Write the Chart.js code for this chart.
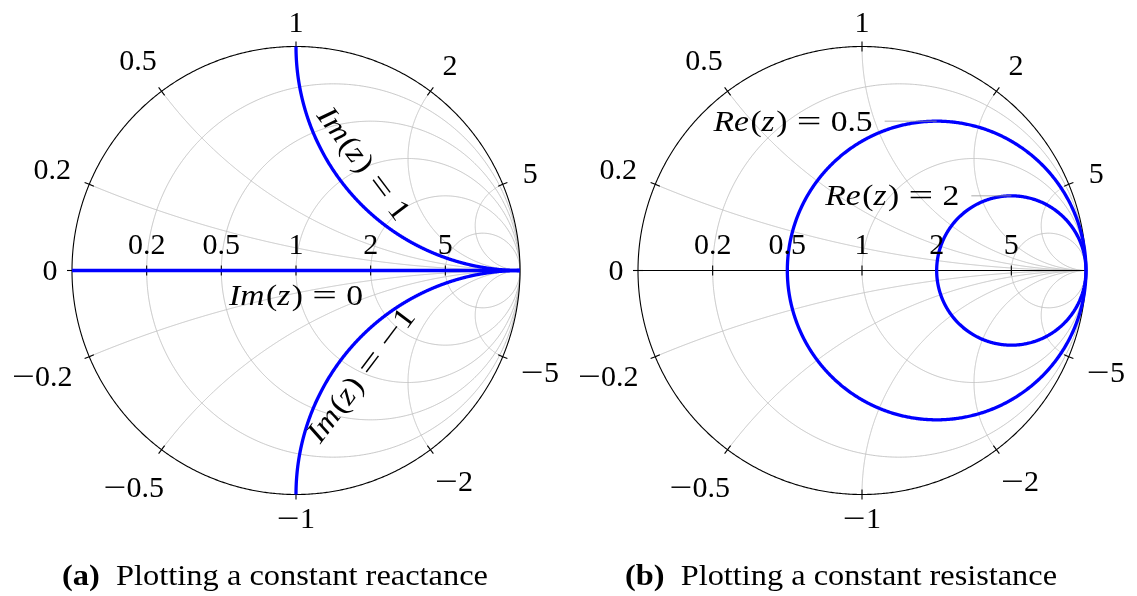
<!DOCTYPE html>
<html>
<head>
<meta charset="utf-8">
<script src="https://cdn.jsdelivr.net/npm/chart.js@4/dist/chart.umd.min.js"></script>
<style>
  html, body { margin: 0; padding: 0; background: #fff; }
  #wrap { position: relative; width: 1137px; height: 596px; overflow: hidden; }
  canvas { position: absolute; top: 0; }
</style>
</head>
<body>
<div id="wrap">
  <canvas id="chartA" width="568" height="596" style="left:0"></canvas>
  <canvas id="chartB" width="569" height="596" style="left:568px"></canvas>
</div>
<script>
// Smith chart grid, in normalised impedance z = r + jx
const resistanceTicks = [0.2, 0.5, 1, 2, 5];
const axisTickLabels = ['0.2', '0.5', '1', '2', '5'];
const reactanceTicks = [0.2, 0.5, 1, 2, 5, -0.2, -0.5, -1, -2, -5];
const rimTickValues = [0, 0.2, 0.5, 1, 2, 5, -0.2, -0.5, -1, -2, -5];
const rimTickLabels = ['0', '0.2', '0.5', '1', '2', '5', '−0.2', '−0.5', '−1', '−2', '−5'];

// Highlighted loci
const constReactance = [1, 0, -1];
const constReactanceLabels = ['Im(z) = 1', 'Im(z) = 0', 'Im(z) = −1'];
const constResistance = [0.5, 2];
const constResistanceLabels = ['Re(z) = 0.5', 'Re(z) = 2'];

const captionTags = ['(a)', '(b)'];
const captionTexts = ['Plotting a constant reactance', 'Plotting a constant resistance'];

// ---- layout / style ----
const R_PX = 224;                 // chart radius in pixels
const TICK = 5 / R_PX;            // half tick length in data units
const FAMILY = '"Liberation Serif", "Times New Roman", serif';
const EM = 30;
const GRID = 'rgb(192,192,192)';
const BLUE = '#0000ff';

// reflection coefficient of z = r + jx
function gamma(r, x) {
  const den = (r + 1) * (r + 1) + x * x;
  return { x: (r * r + x * x - 1) / den, y: (2 * x) / den };
}
const STEPS = 480;
function resistanceLocus(r) {
  const pts = [{ x: 1, y: 0 }];
  for (let i = 1; i < STEPS; i++) {
    const t = -Math.PI / 2 + Math.PI * i / STEPS;
    pts.push(gamma(r, Math.tan(t)));
  }
  pts.push({ x: 1, y: 0 });
  return pts;
}
function reactanceLocus(x) {
  const pts = [];
  for (let i = 0; i < STEPS; i++) {
    const t = (Math.PI / 2) * i / STEPS;
    pts.push(gamma(Math.tan(t), x));
  }
  pts.push({ x: 1, y: 0 });
  return pts;
}
// a tiny tension keeps Chart.js on the exact path renderer (no per-pixel merging)
function series(data, color, width, order) {
  return { data, borderColor: color, borderWidth: width, showLine: true, pointRadius: 0,
           pointHoverRadius: 0, fill: false, tension: 0.0001, order, clip: false,
           borderJoinStyle: 'round' };
}

function baseDatasets() {
  const ds = [];
  resistanceTicks.forEach(r => ds.push(series(resistanceLocus(r), GRID, 1, 3)));
  reactanceTicks.forEach(x => ds.push(series(reactanceLocus(x), GRID, 1, 3)));
  ds.push(series(resistanceLocus(0), '#000', 1.1, 2));     // rim
  ds.push(series(reactanceLocus(0), '#000', 1.1, 2));      // real axis
  rimTickValues.forEach(x => {
    const g = gamma(0, x);
    ds.push(series([{ x: g.x * (1 - TICK), y: g.y * (1 - TICK) },
                    { x: g.x * (1 + TICK), y: g.y * (1 + TICK) }], '#000', 1.1, 2));
  });
  resistanceTicks.forEach(r => {
    const g = gamma(r, 0);
    ds.push(series([{ x: g.x, y: -TICK }, { x: g.x, y: TICK }], '#000', 1.1, 2));
  });
  return ds;
}

// ---- math-style text ----
function mathRuns(str) {
  const runs = [];
  const k = /[A-Za-z]/.test(str) ? 1.12 : 1;
  for (const ch of str) {
    if (ch === ' ') continue;
    if (/[A-Za-z]/.test(ch)) runs.push({ t: ch, it: true, sx: k });
    else if (ch === '=') runs.push({ t: '=', sx: 1.3 * k, padL: 0.278 * k, padR: 0.278 * k });
    else if (ch === '−') runs.push({ t: '−', sx: 1.35 * k });
    else runs.push({ t: ch, sx: k });
  }
  return runs;
}
function runFont(run) { return (run.it ? 'italic ' : '') + EM + 'px ' + FAMILY; }
function runsLayout(ctx, runs) {
  let x = 0;
  const out = [];
  runs.forEach((run, i) => {
    ctx.font = runFont(run);
    const sx = run.sx || 1;
    x += (run.padL || 0) * EM;
    const w = ctx.measureText(run.t).width * sx;
    out.push({ run, x, sx });
    x += w + (run.padR || 0) * EM;
    const next = runs[i + 1];
    if (run.it && next && !next.it) x += 0.05 * EM;
  });
  return { items: out, width: x };
}
function drawRuns(ctx, runs, x0, y0) {
  const lay = runsLayout(ctx, runs);
  lay.items.forEach(({ run, x, sx }) => {
    ctx.font = runFont(run);
    ctx.save();
    ctx.translate(x0 + x, y0);
    ctx.scale(sx, 1);
    ctx.fillText(run.t, 0, 0);
    ctx.restore();
  });
  return lay.width;
}
function runsWidth(ctx, runs) { return runsLayout(ctx, runs).width; }

function drawCaption(ctx, tag, text, left, right, baseline) {
  ctx.font = 'bold ' + EM + 'px ' + FAMILY;
  const wb = ctx.measureText(tag).width;
  ctx.font = EM + 'px ' + FAMILY;
  const wt = ctx.measureText(text).width;
  const gap = 0.5 * EM;
  const k = (right - left) / (wb + gap + wt);
  ctx.save();
  ctx.translate(left, baseline);
  ctx.scale(k, 1);
  ctx.font = 'bold ' + EM + 'px ' + FAMILY;
  ctx.fillText(tag, 0, 0);
  ctx.font = EM + 'px ' + FAMILY;
  ctx.fillText(text, wb + gap, 0);
  ctx.restore();
}

function smithLabels(extra) {
  return {
    id: 'smithLabels',
    afterDatasetsDraw(chart) {
      const ctx = chart.ctx;
      const xs = chart.scales.x, ys = chart.scales.y;
      const px = v => xs.getPixelForValue(v), py = v => ys.getPixelForValue(v);
      const R = px(1) - px(0);
      ctx.save();
      ctx.fillStyle = '#000';
      ctx.textBaseline = 'alphabetic';
      // reactance values around the rim
      rimTickValues.forEach((v, i) => {
        const g = gamma(0, v);
        const dx = g.x, dy = -g.y;
        const runs = mathRuns(rimTickLabels[i]);
        const w = runsWidth(ctx, runs);
        const off = -0.4 + (w / 2 + 15) * Math.abs(dx) + 24.5 * Math.abs(dy);
        const cx = px(0) + dx * (R + off), cy = py(0) + dy * (R + off);
        drawRuns(ctx, runs, cx - w / 2, cy + 9.8);
      });
      // resistance values along the real axis
      resistanceTicks.forEach((r, i) => {
        const g = gamma(r, 0);
        const runs = mathRuns(axisTickLabels[i]);
        const w = runsWidth(ctx, runs);
        drawRuns(ctx, runs, px(g.x) - w / 2, py(0) - 17);
      });
      extra(ctx, px, py);
      ctx.restore();
    }
  };
}

// half-pixel top offset keeps the horizontal axis on a pixel row
const chartOptions = (padLeft, padRight) => ({
  responsive: false,
  animation: false,
  events: [],
  layout: { padding: { left: padLeft, right: padRight, top: 46.5, bottom: 596 - 494.5 } },
  scales: {
    x: { type: 'linear', min: -1, max: 1, display: false },
    y: { type: 'linear', min: -1, max: 1, display: false }
  },
  plugins: { legend: { display: false }, tooltip: { enabled: false } }
});

// (a) constant reactance
const dsA = baseDatasets();
constReactance.forEach(x => dsA.push(series(reactanceLocus(x), BLUE, 3.3, 0)));
new Chart(document.getElementById('chartA'), {
  type: 'scatter',
  data: { datasets: dsA },
  options: chartOptions(72, 568 - 520),
  plugins: [smithLabels((ctx, px, py) => {
    constReactance.forEach((xv, i) => {
      const p = gamma(1, xv), q = gamma(1.01, xv);
      const P = { x: px(p.x), y: py(p.y) };
      const th = Math.atan2(py(q.y) - P.y, px(q.x) - P.x);
      const side = xv > 0 ? -1 : 1;           // above the positive arc, below the others
      const nx = -side * Math.sin(th), ny = side * Math.cos(th);
      const runs = mathRuns(constReactanceLabels[i]);
      const w = runsWidth(ctx, runs);
      ctx.save();
      ctx.translate(P.x + 27 * nx, P.y + 27 * ny);
      ctx.rotate(th);
      drawRuns(ctx, runs, -w / 2, 7.5);
      ctx.restore();
    });
    drawCaption(ctx, captionTags[0], captionTexts[0], 62, 488, 585);
  })]
});

// (b) constant resistance
const dsB = baseDatasets();
constResistance.forEach(r => dsB.push(series(resistanceLocus(r), BLUE, 3.3, 0)));
const pinGap = [64, 52];
new Chart(document.getElementById('chartB'), {
  type: 'scatter',
  data: { datasets: dsB },
  options: chartOptions(70, 569 - 518),
  plugins: [smithLabels((ctx, px, py) => {
    constResistance.forEach((r, i) => {
      const top = gamma(r, r + 1);            // highest point of the circle
      const P = { x: px(top.x), y: py(top.y) };
      const runs = mathRuns(constResistanceLabels[i]);
      const w = runsWidth(ctx, runs);
      const right = P.x - pinGap[i];
      ctx.save();
      ctx.strokeStyle = 'rgb(150,150,150)';
      ctx.lineWidth = 0.8;
      ctx.beginPath();
      ctx.moveTo(right + 12, P.y);
      ctx.lineTo(P.x, P.y);
      ctx.stroke();
      ctx.restore();
      drawRuns(ctx, runs, right - w, P.y + 2 + 7.5);
    });
    drawCaption(ctx, captionTags[1], captionTexts[1], 625 - 568, 1057 - 568, 585);
  })]
});
</script>
</body>
</html>
